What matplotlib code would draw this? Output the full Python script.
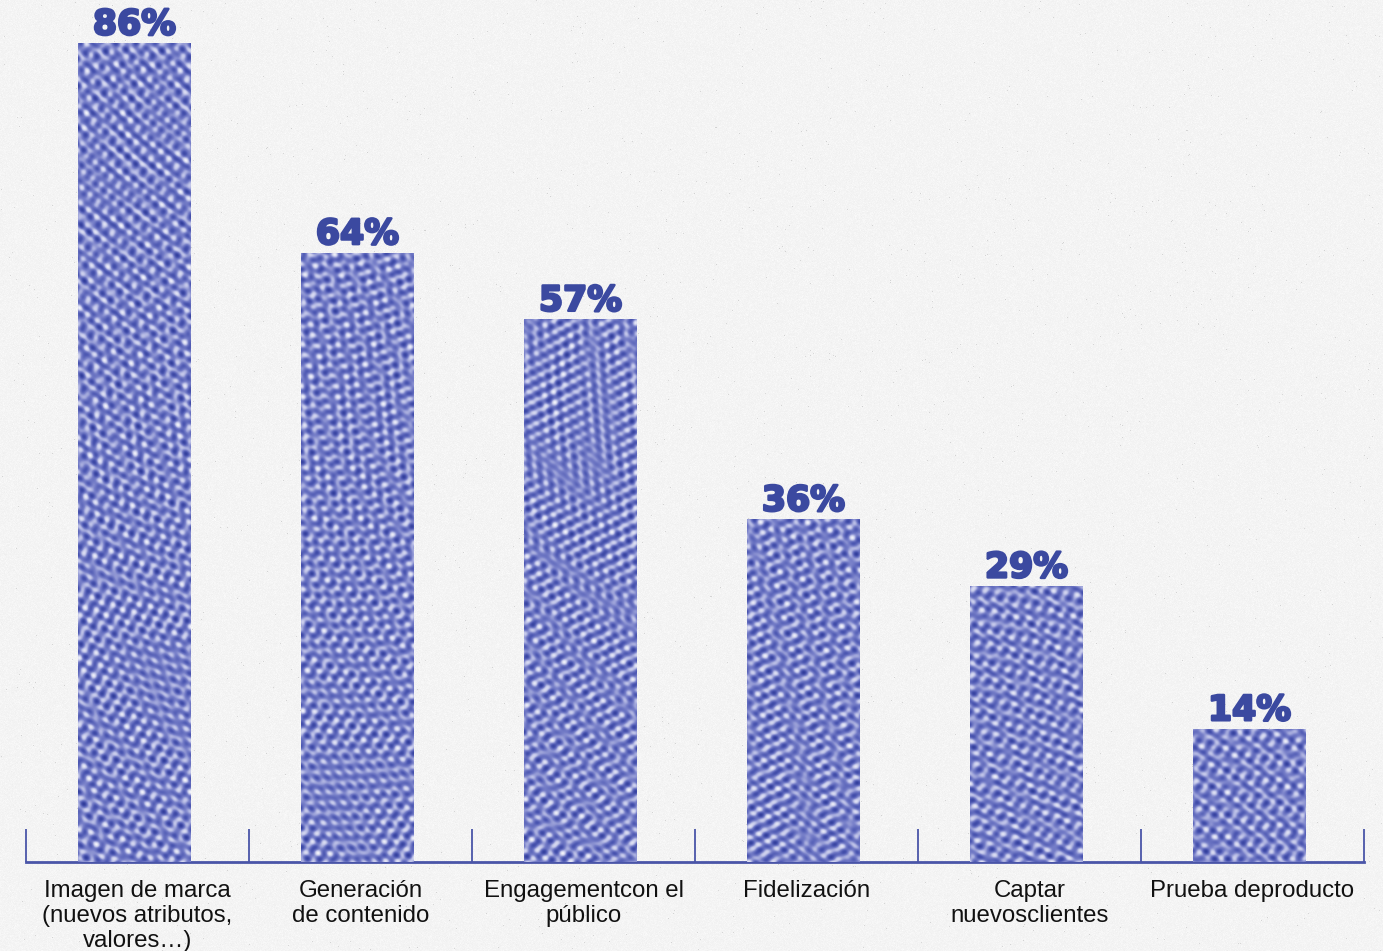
import numpy as np
import matplotlib
matplotlib.use("Agg")
import matplotlib.pyplot as plt
import matplotlib.patheffects as pe
from matplotlib.colors import LinearSegmentedColormap

# data
categorias = ["Imagen de marca\n(nuevos atributos,\nvalores…)",
              "Generación\nde contenido",
              "Engagementcon el\npúblico",
              "Fidelización",
              "Captar\nnuevosclientes",
              "Prueba deproducto"]
valores = [86, 64, 57, 36, 29, 14]
etiquetas = ["86%", "64%", "57%", "36%", "29%", "14%"]

azul = "#3b49a0"
fondo = "#f1f1f0"

fig = plt.figure(figsize=(13.83, 9.51), dpi=100, facecolor=fondo)

# speckled paper background
bg = fig.add_axes([0, 0, 1, 1])
bg.set_axis_off()
rng = np.random.default_rng(3)
noise = rng.normal(0, 1, (951, 1383))
paper = np.full((951, 1383), 0.955) + 0.008 * noise
spots = rng.random((951, 1383)) > 0.9985
paper[spots] -= 0.12
bg.imshow(np.clip(paper, 0, 1), cmap="gray", vmin=0, vmax=1, aspect="auto",
          interpolation="bilinear")

ax = fig.add_axes([26 / 1383, 89 / 951, 1338 / 1383, 862 / 951])
ax.patch.set_alpha(0)
x = np.arange(len(valores))
ytop = 86 * 862 / 819
ax.set_xlim(-0.5, len(valores) - 0.5)
ax.set_ylim(0, ytop)

# fingerprint-like texture for the bars
H, W = 862, 1338
YY, XX = np.mgrid[0:H, 0:W].astype(float)
r1 = np.hypot(XX - 300, YY - 900)
r2 = np.hypot(XX - 900, YY + 300)
r3 = np.hypot(XX + 200, YY - 400)
r4 = np.hypot(XX - 1200, YY - 500)
tex = (np.cos(0.62 * r1) + np.cos(0.58 * r2) + 0.8 * np.cos(0.55 * r3)
       + 0.6 * np.cos(0.7 * r4) + 0.5 * np.cos(0.9 * (XX * 0.6 + YY * 0.8)))
tex = (tex - tex.min()) / (tex.max() - tex.min())
cmap = LinearSegmentedColormap.from_list(
    "tinta", ["#303c9a", "#4d58b2", "#7880c9", "#bfc3e8", "#f4f5fb"])

xb = x - 3 / 223
bars = ax.bar(xb, valores, width=113 / 223, color="#5a64b8", edgecolor="none",
              zorder=3)
for b in bars:
    im = ax.imshow(tex, cmap=cmap, extent=(-0.5, len(valores) - 0.5, 0, ytop),
                   aspect="auto", origin="lower", interpolation="bilinear", zorder=3)
    im.set_clip_path(b)

for xi, v, t in zip(xb, valores, etiquetas):
    ax.annotate(t, (xi, v), xytext=(0, 1), textcoords="offset points",
                ha="center", va="bottom", fontsize=25, fontweight="heavy",
                family="DejaVu Sans", color=azul, zorder=4,
                path_effects=[pe.withStroke(linewidth=1.8, foreground=azul)])

for s in ["top", "right", "left"]:
    ax.spines[s].set_visible(False)
ax.spines["bottom"].set_color("#4a55a8")
ax.spines["bottom"].set_linewidth(2)
ax.set_yticks([])

# boundary ticks pointing up
ax.set_xticks(np.arange(-0.5, len(valores)), minor=True)
ax.tick_params(axis="x", which="minor", direction="in", length=24, width=1.3,
               color="#4a55a8")
ax.set_xticks(x)
ax.set_xticklabels(categorias, fontsize=17.3, family="Liberation Sans",
                   linespacing=1.17, color="#111111")
ax.tick_params(axis="x", which="major", length=0, pad=13)

fig.savefig("out.png", dpi=100, facecolor=fondo)
